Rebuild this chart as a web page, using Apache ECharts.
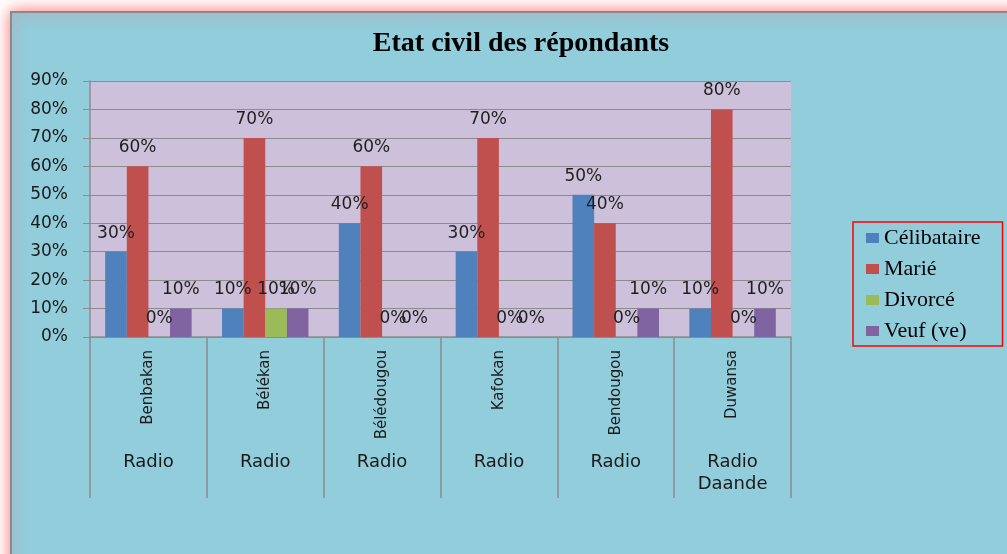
<!DOCTYPE html>
<html>
<head>
<meta charset="utf-8">
<script src="https://cdn.jsdelivr.net/npm/echarts@6/dist/echarts.min.js"></script>
<style>
    html, body { margin: 0; padding: 0; background: #fff; }
    #chartMain { width: 1007px; height: 554px; }
</style>
</head>
<body>
<div id="chartMain"></div>
<script>
// données
const sites = ['Benbakan', 'Bélékan', 'Bélédougou', 'Kafokan', 'Bendougou', 'Duwansa']
const radios = ['Radio', 'Radio', 'Radio', 'Radio', 'Radio', 'Radio\nDaande']
const celibataire = [30, 10, 40, 30, 50, 10]
const marie = [60, 70, 60, 70, 40, 80]
const divorce = [0, 10, 0, 0, 0, 0]
const veuf = [10, 10, 0, 0, 10, 10]
const seriesNames = ['Célibataire', 'Marié', 'Divorcé', 'Veuf (ve)']
const seriesColors = ['#4F81BD', '#C0504D', '#9BBB59', '#8064A2']

const chart = echarts.init(document.getElementById('chartMain'))

const labelStyle = {
    show: true,
    position: 'top',
    distance: 10,
    formatter: '{c}%',
    fontFamily: 'DejaVu Sans',
    fontSize: 17,
    color: '#1f1f1f',
}

function makeBar(name, data, color) {
    return {
        name: name,
        type: 'bar',
        data: data,
        barGap: 0,
        barCategoryGap: '26%',
        itemStyle: { color: color },
        label: labelStyle,
    }
}

const option = {
    backgroundColor: '#fff',
    animation: false,
    graphic: [
        {
            type: 'rect',
            z: -10,
            shape: { x: 11, y: 12, width: 1020, height: 570 },
            style: {
                fill: '#92CDDC',
                stroke: '#8a8a8a',
                lineWidth: 2,
                shadowBlur: 14,
                shadowColor: 'rgba(255,90,90,0.85)',
            },
        },
    ],
    title: {
        text: 'Etat civil des répondants',
        left: 516,
        top: 25,
        textAlign: 'center',
        textStyle: {
            fontFamily: 'Liberation Serif',
            fontWeight: 'bold',
            fontSize: 28,
            color: '#000',
        },
    },
    legend: {
        orient: 'vertical',
        left: 853,
        top: 222,
        padding: [5, 22, 4, 13],
        itemGap: 9,
        itemWidth: 13,
        itemHeight: 10,
        icon: 'rect',
        borderColor: '#FF0000',
        borderWidth: 1.5,
        data: seriesNames,
        textStyle: {
            fontFamily: 'Liberation Serif',
            fontSize: 22,
            lineHeight: 22,
            color: '#000',
        },
    },
    grid: {
        left: 90,
        right: 216,
        top: 81,
        bottom: 217,
        show: true,
        backgroundColor: '#CCC0DA',
        borderWidth: 0,
    },
    xAxis: [
        {
            type: 'category',
            data: sites,
            axisLine: { lineStyle: { color: '#8c8c8c', width: 1.5 } },
            axisTick: { show: true, length: 161, lineStyle: { color: '#8c8c8c', width: 1.5 } },
            axisLabel: {
                rotate: 90,
                margin: 13,
                fontFamily: 'DejaVu Sans',
                fontSize: 15,
                color: '#1a1a1a',
            },
        },
        {
            type: 'category',
            data: radios,
            position: 'bottom',
            axisLine: { show: false },
            axisTick: { show: false },
            axisLabel: {
                margin: 114,
                fontFamily: 'DejaVu Sans',
                fontSize: 18,
                lineHeight: 22,
                color: '#1a1a1a',
            },
        },
    ],
    yAxis: {
        type: 'value',
        min: 0,
        max: 90,
        interval: 10,
        axisLine: { show: true, lineStyle: { color: '#8c8c8c', width: 1.5 } },
        axisTick: { show: true, length: 7, lineStyle: { color: '#8c8c8c' } },
        splitLine: { lineStyle: { color: '#8c8c8c', width: 1.2 } },
        axisLabel: {
            formatter: '{value}%',
            margin: 22,
            fontFamily: 'DejaVu Sans',
            fontSize: 17,
            color: '#1a1a1a',
        },
    },
    series: [
        makeBar(seriesNames[0], celibataire, seriesColors[0]),
        makeBar(seriesNames[1], marie, seriesColors[1]),
        makeBar(seriesNames[2], divorce, seriesColors[2]),
        makeBar(seriesNames[3], veuf, seriesColors[3]),
    ],
}
option && chart.setOption(option)
</script>
</body>
</html>
